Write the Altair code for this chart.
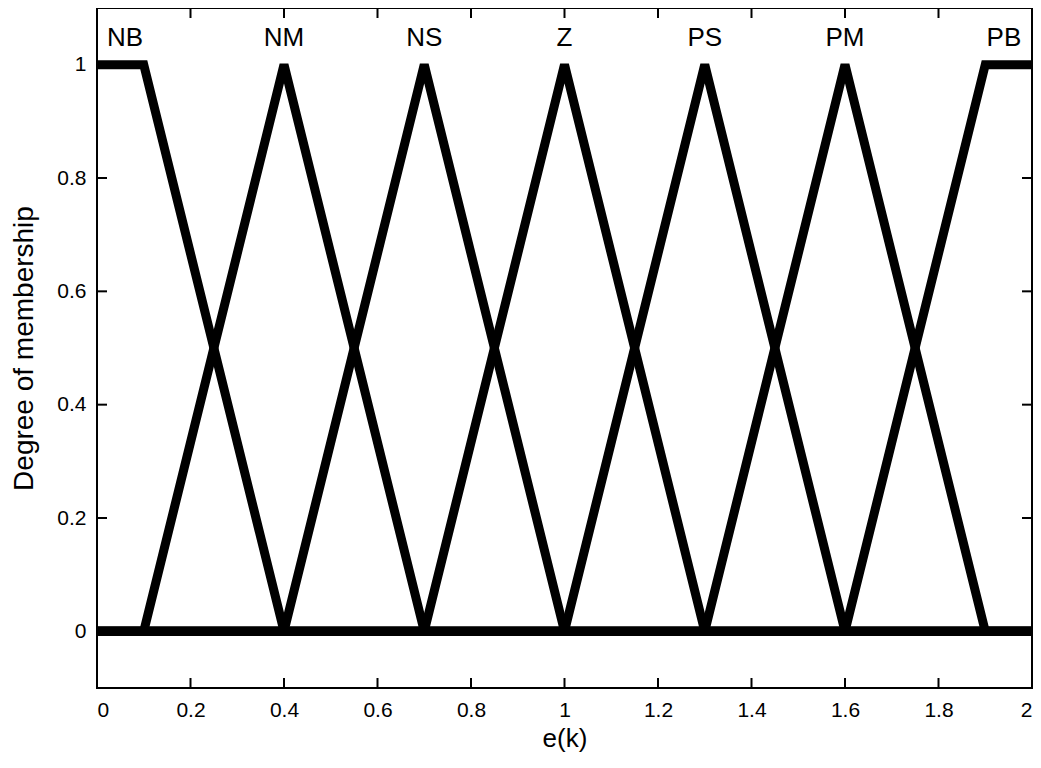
import altair as alt
import pandas as pd

# membership function breakpoints
sets = ["NB", "NM", "NS", "Z", "PS", "PM", "PB"]
nb_x = [0.0, 0.1, 0.4, 2.0]
nb_y = [1, 1, 0, 0]
nm_x = [0.0, 0.1, 0.4, 0.7, 2.0]
nm_y = [0, 0, 1, 0, 0]
ns_x = [0.0, 0.4, 0.7, 1.0, 2.0]
ns_y = [0, 0, 1, 0, 0]
z_x = [0.0, 0.7, 1.0, 1.3, 2.0]
z_y = [0, 0, 1, 0, 0]
ps_x = [0.0, 1.0, 1.3, 1.6, 2.0]
ps_y = [0, 0, 1, 0, 0]
pm_x = [0.0, 1.3, 1.6, 1.9, 2.0]
pm_y = [0, 0, 1, 0, 0]
pb_x = [0.0, 1.6, 1.9, 2.0]
pb_y = [0, 0, 1, 1]

label_x = [0.06, 0.4, 0.7, 1.0, 1.3, 1.6, 1.94]
label_y = [1.047] * 7

x_ticks = [0, 0.2, 0.4, 0.6, 0.8, 1.0, 1.2, 1.4, 1.6, 1.8, 2.0]
y_ticks = [0, 0.2, 0.4, 0.6, 0.8, 1.0]

xs = [nb_x, nm_x, ns_x, z_x, ps_x, pm_x, pb_x]
ys = [nb_y, nm_y, ns_y, z_y, ps_y, pm_y, pb_y]
rows = []
for name, xv, yv in zip(sets, xs, ys):
    for i, (a, b) in enumerate(zip(xv, yv)):
        rows.append({"set": name, "x": a, "y": b, "i": i})
df = pd.DataFrame(rows)
labels = pd.DataFrame({"set": sets, "x": label_x, "y": label_y})
xt = pd.DataFrame({"t": x_ticks})
yt = pd.DataFrame({"t": y_ticks})

W, H = 935, 680
FONT = "Liberation Sans"

xscale = alt.Scale(domain=[0, 2], nice=False, zero=False)
yscale = alt.Scale(domain=[-0.1, 1.1], nice=False, zero=False)

xaxis = alt.Axis(values=x_ticks, title="e(k)", tickSize=0, domain=False, grid=False,
                 labelFont=FONT, labelFontSize=21, labelColor="black", labelPadding=11,
                 titleFont=FONT, titleFontSize=26, titleFontWeight="normal", titleColor="black",
                 titlePadding=5, labelExpr="datum.value == 1 || datum.value == 2 || datum.value == 0 ? format(datum.value, 'd') : format(datum.value, '.1f')")
yaxis = alt.Axis(values=y_ticks, title="Degree of membership", tickSize=0, domain=False, grid=False,
                 labelFont=FONT, labelFontSize=21, labelColor="black", labelPadding=11,
                 titleFont=FONT, titleFontSize=28, titleFontWeight="normal", titleColor="black",
                 titlePadding=18, labelExpr="datum.value == 1 || datum.value == 0 ? format(datum.value, 'd') : format(datum.value, '.1f')")

lines = alt.Chart(df).mark_line(strokeWidth=9, strokeJoin="miter", strokeCap="butt", clip=True, color="black").encode(
    x=alt.X("x:Q", scale=xscale, axis=xaxis),
    y=alt.Y("y:Q", scale=yscale, axis=yaxis),
    detail="set:N",
    order="i:Q",
)

text = alt.Chart(labels).mark_text(font=FONT, fontSize=26, color="black").encode(
    x=alt.X("x:Q", scale=xscale),
    y=alt.Y("y:Q", scale=yscale),
    text="set:N",
)

tick_style = dict(color="black", strokeWidth=2)
yt_left = alt.Chart(yt).mark_rule(**tick_style).encode(
    y=alt.Y("t:Q", scale=yscale), x=alt.value(0), x2=alt.value(10))
yt_right = alt.Chart(yt).mark_rule(**tick_style).encode(
    y=alt.Y("t:Q", scale=yscale), x=alt.value(W - 10), x2=alt.value(W))
xt_bottom = alt.Chart(xt).mark_rule(**tick_style).encode(
    x=alt.X("t:Q", scale=xscale), y=alt.value(H - 10), y2=alt.value(H))
xt_top = alt.Chart(xt).mark_rule(**tick_style).encode(
    x=alt.X("t:Q", scale=xscale), y=alt.value(0), y2=alt.value(10))

chart = alt.layer(lines, text, yt_left, yt_right, xt_bottom, xt_top).properties(
    width=W, height=H,
    autosize=alt.AutoSizeParams(type="none"),
    padding={"left": 89, "top": 0, "right": 1, "bottom": 72},
).configure(background="white").configure_view(stroke="black", strokeWidth=2)

chart.save("out.html", embed_options={"renderer": "svg", "actions": False})
